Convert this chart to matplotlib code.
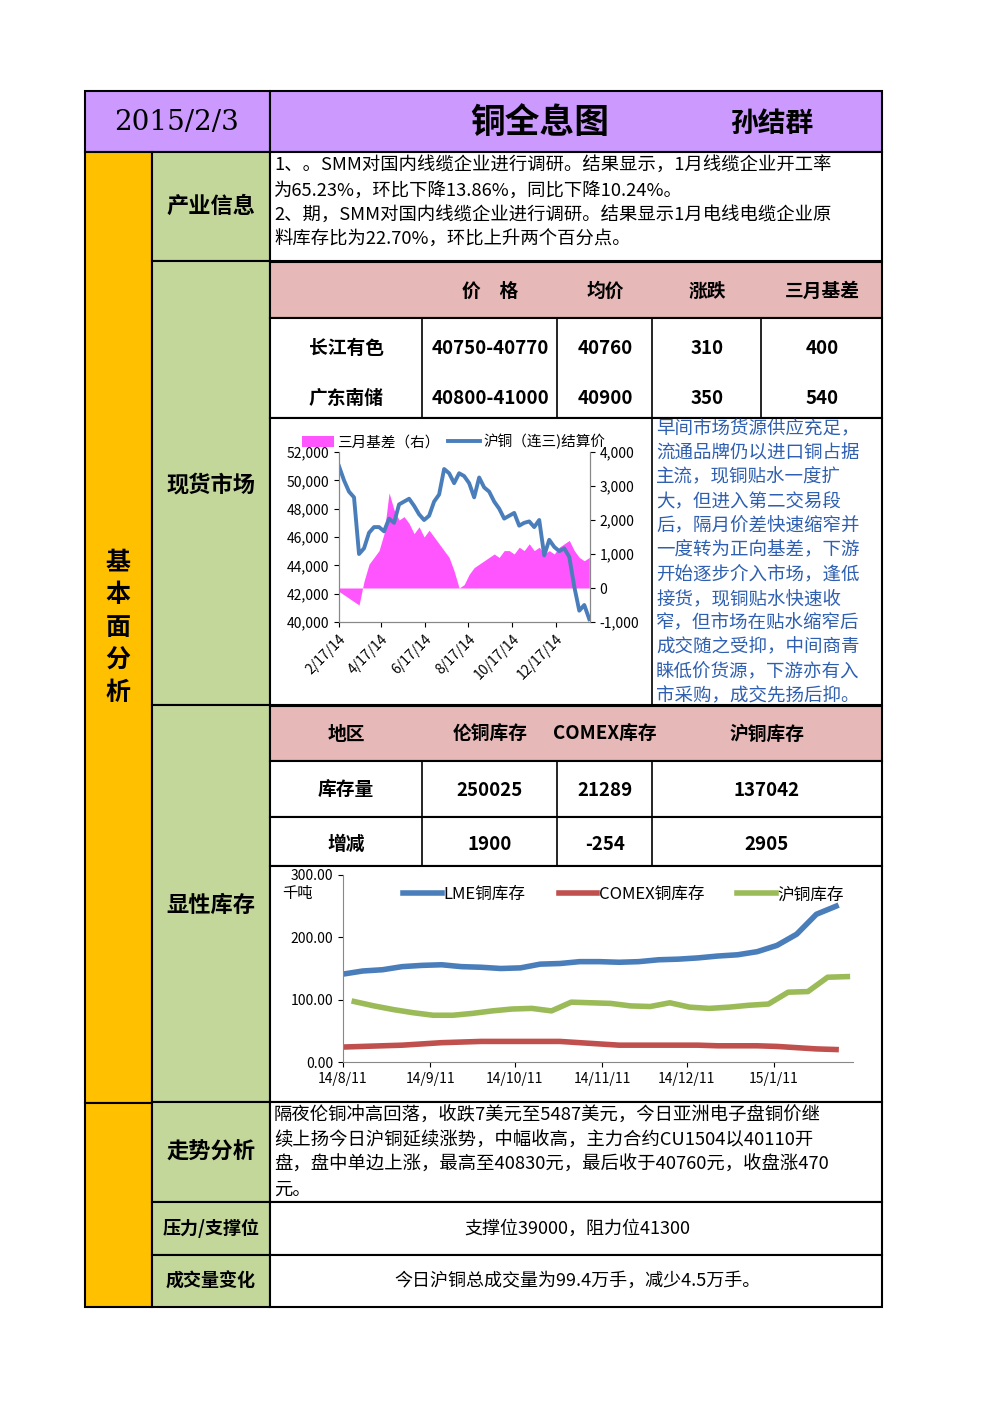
import matplotlib
matplotlib.use("Agg")
import matplotlib.pyplot as plt
import pandas as pd
from matplotlib.patches import Rectangle

plt.rcParams['font.family'] = ['Noto Sans CJK SC', 'DejaVu Sans']

# ---- data ----
price_table_header = ["价　格", "均价", "涨跌", "三月基差"]
price_rows = [["长江有色", "40750-40770", "40760", "310", "400"],
              ["广东南储", "40800-41000", "40900", "350", "540"]]
inv_header = ["地区", "伦铜库存", "COMEX库存", "沪铜库存"]
inv_rows = [["库存量", "250025", "21289", "137042"],
            ["增减", "1900", "-254", "2905"]]

spot_price = [51000, 50000, 49200, 48800, 44800, 45200, 46300, 46700, 46700, 46400,
              47300, 47000, 48300, 48500, 48700, 48200, 47600, 47200, 47500, 48500,
              49000, 50800, 50500, 49800, 50500, 50300, 49800, 48800, 50200, 49500,
              49200, 48500, 48000, 47300, 47500, 47700, 46800, 47000, 47100, 46700,
              47200, 44700, 45800, 45300, 45000, 45200, 44600, 42500, 40800, 41200, 40200]
basis = [-100, -200, -300, -400, -500, 200, 700, 900, 1100, 1600,
         2800, 2300, 2000, 2100, 1900, 1600, 1800, 1500, 1700, 1500,
         1300, 1100, 900, 500, 0, 100, 400, 600, 700, 800,
         900, 1000, 900, 1100, 1100, 1000, 1200, 1100, 1300, 1100,
         1200, 1000, 1100, 1000, 1200, 1300, 1400, 1100, 900, 800, 900]
spot_dates = pd.date_range("2014-02-17", periods=len(spot_price), freq="7D")

lme = [141, 146, 148, 153, 155, 156, 153, 152, 150, 151, 157, 158, 161, 161, 160, 161,
       164, 165, 167, 170, 172, 177, 187, 205, 237, 250]
comex = [24, 25, 26, 27, 29, 31, 32, 33, 33, 33, 33, 33, 31, 29, 27, 27, 27, 27, 27, 26,
         26, 26, 25, 23, 21, 20]
shfe = [97, 90, 84, 79, 75, 75, 78, 82, 85, 86, 82, 96, 95, 94, 90, 89, 95, 88, 86, 88,
        91, 93, 112, 113, 136, 137]
inv_dates = pd.date_range("2014-08-11", periods=len(lme), freq="7D")
shfe_dates = pd.date_range("2014-08-15", periods=len(shfe), freq="7D")

W, H = 992, 1403
fig = plt.figure(figsize=(9.92, 14.03), dpi=100)
bg = fig.add_axes([0, 0, 1, 1])
bg.set_xlim(0, W); bg.set_ylim(H, 0); bg.axis("off")

def rect(x0, y0, x1, y1, fc, lw=1.5):
    bg.add_patch(Rectangle((x0, y0), x1 - x0, y1 - y0, facecolor=fc, edgecolor="black", lw=lw))

def txt(x, y, s, size=13, bold=False, color="black", ha="center", **kw):
    bg.text(x, y, s, fontsize=size, fontweight="bold" if bold else "normal",
            color=color, ha=ha, va="center", **kw)

purple, orange, green, pink = "#CC99FF", "#FFC000", "#C4D79B", "#E6B8B7"

rect(85, 91, 270, 152, purple); rect(270, 91, 882, 152, purple)
txt(177, 122, "2015/2/3", size=20, family=["DejaVu Serif"])
txt(540, 122, "铜全息图", size=25, bold=True)
txt(772, 124, "孙结群", size=20, bold=True)

rect(85, 152, 152, 1103, orange); rect(85, 1103, 152, 1307, orange)
for i, ch in enumerate("基本面分析"):
    txt(118, 563 + i * 32.5, ch, size=18, bold=True)

sections = [(152, 261, "产业信息", 16), (261, 705, "现货市场", 16), (705, 1102, "显性库存", 16),
            (1102, 1202, "走势分析", 16), (1202, 1255, "压力/支撑位", 13), (1255, 1307, "成交量变化", 13)]
for y0, y1, s, fs in sections:
    rect(152, y0, 270, y1, green)
    yc = (y0 + y1) / 2
    if s == "现货市场": yc = 485
    if s == "显性库存": yc = 905
    txt(211, yc, s, size=fs, bold=True)

rect(270, 152, 882, 261, "white")
info = ["1、。SMM对国内线缆企业进行调研。结果显示，1月线缆企业开工率",
        "为65.23%，环比下降13.86%，同比下降10.24%。",
        "2、期，SMM对国内线缆企业进行调研。结果显示1月电线电缆企业原",
        "料库存比为22.70%，环比上升两个百分点。"]
for i, s in enumerate(info):
    txt(274, 166 + i * 24.5, s, size=13.2, ha="left")

rect(270, 262, 882, 318, pink)
for x, s in zip([490, 605, 707, 822], price_table_header):
    txt(x, 291, s, size=13.5, bold=True)
rect(270, 318, 882, 418, "white")
for x in [422, 557, 652, 761]:
    bg.plot([x, x], [318, 418], color="black", lw=1.2)
for r, yy in zip(price_rows, [348, 398]):
    for x, s in zip([346, 490, 605, 707, 822], r):
        txt(x, yy, s, size=13.5, bold=True)

rect(270, 418, 882, 705, "white")
comment = ["早间市场货源供应充足，", "流通品牌仍以进口铜占据", "主流，现铜贴水一度扩",
           "大，但进入第二交易段", "后，隔月价差快速缩窄并", "一度转为正向基差，下游",
           "开始逐步介入市场，逢低", "接货，现铜贴水快速收", "窄，但市场在贴水缩窄后",
           "成交随之受抑，中间商青", "睐低价货源，下游亦有入", "市采购，成交先扬后抑。"]
for i, s in enumerate(comment):
    txt(656, 429 + i * 24.3, s, size=13.3, ha="left", color="#2E5FB0")
bg.plot([652, 652], [418, 705], color="black", lw=1.2)

rect(270, 706, 882, 761, pink)
for x, s in zip([346, 490, 605, 767], inv_header):
    txt(x, 734, s, size=13.5, bold=True)
rect(270, 761, 882, 817, "white"); rect(270, 817, 882, 866, "white")
for x in [422, 557, 652]:
    bg.plot([x, x], [761, 866], color="black", lw=1.2)
for r, yy in zip(inv_rows, [790, 844]):
    for x, s in zip([346, 490, 605, 767], r):
        txt(x, yy, s, size=13.5, bold=True)
rect(270, 866, 882, 1102, "white")

rect(270, 1102, 882, 1202, "white")
trend = ["隔夜伦铜冲高回落，收跌7美元至5487美元，今日亚洲电子盘铜价继",
         "续上扬今日沪铜延续涨势，中幅收高，主力合约CU1504以40110开",
         "盘，盘中单边上涨，最高至40830元，最后收于40760元，收盘涨470",
         "元。"]
for i, s in enumerate(trend):
    txt(274, 1116 + i * 24.5, s, size=13.2, ha="left")
rect(270, 1202, 882, 1255, "white")
txt(577, 1229, "支撑位39000，阻力位41300", size=13)
rect(270, 1255, 882, 1307, "white")
txt(577, 1281, "今日沪铜总成交量为99.4万手，减少4.5万手。", size=13)

def fax(x0, y0, x1, y1):
    return fig.add_axes([x0 / W, 1 - y1 / H, (x1 - x0) / W, (y1 - y0) / H])

# chart 1
ax1 = fax(339, 452, 590, 622)
ax2 = ax1.twinx()
ax2.fill_between(spot_dates, 0, basis, color="#FF55FF", lw=0, label="三月基差（右）")
ax2.set_ylim(-1000, 4000)
ax2.set_yticks(range(-1000, 4001, 1000))
ax2.set_yticklabels([f"{v:,}" for v in range(-1000, 4001, 1000)])
ax1.plot(spot_dates, spot_price, color="#4A7EBB", lw=2.8, label="沪铜（连三)结算价")
ax1.set_ylim(40000, 52000)
ax1.set_yticks(range(40000, 52001, 2000))
ax1.set_yticklabels([f"{v:,}" for v in range(40000, 52001, 2000)])
ax1.set_zorder(ax2.get_zorder() + 1); ax1.patch.set_visible(False)
ticks = pd.to_datetime(["2014-02-17", "2014-04-17", "2014-06-17", "2014-08-17", "2014-10-17", "2014-12-17"])
ax1.set_xlim(pd.Timestamp("2014-02-17"), pd.Timestamp("2015-02-03"))
ax1.set_xticks(ticks)
ax1.set_xticklabels(["2/17/14", "4/17/14", "6/17/14", "8/17/14", "10/17/14", "12/17/14"])
for a in (ax1, ax2):
    a.tick_params(labelsize=10, direction="out")
    a.spines["top"].set_visible(False)
    for sp in a.spines.values():
        sp.set_color("#888888")
for lab in ax1.get_xticklabels():
    lab.set_rotation(45); lab.set_ha("right"); lab.set_rotation_mode("anchor")
h1, l1 = ax2.get_legend_handles_labels(); h2, l2 = ax1.get_legend_handles_labels()
ax1.legend(h1 + h2, l1 + l2, loc="lower left", bbox_to_anchor=(-0.17, 0.98), ncol=2, frameon=False,
           fontsize=10.5, handlelength=2.2, columnspacing=0.6, borderaxespad=0, handletextpad=0.2)

# chart 2
ax3 = fax(343, 875, 853, 1062)
ax3.plot(inv_dates, lme, color="#4A7EBB", lw=4, label="LME铜库存")
ax3.plot(inv_dates, comex, color="#C0504D", lw=4, label="COMEX铜库存")
ax3.plot(shfe_dates, shfe, color="#9BBB59", lw=4, label="沪铜库存")
ax3.set_ylim(0, 300)
ax3.set_yticks([0, 100, 200, 300])
ax3.set_yticklabels(["0.00", "100.00", "200.00", "300.00"])
xt = pd.to_datetime(["2014-08-11", "2014-09-11", "2014-10-11", "2014-11-11", "2014-12-11", "2015-01-11"])
ax3.set_xticks(xt)
ax3.set_xticklabels(["14/8/11", "14/9/11", "14/10/11", "14/11/11", "14/12/11", "15/1/11"])
ax3.set_xlim(pd.Timestamp("2014-08-11"), pd.Timestamp("2015-02-08"))
ax3.tick_params(labelsize=10, direction="out")
for s in ("top", "right"):
    ax3.spines[s].set_visible(False)
for sp in ax3.spines.values():
    sp.set_color("#888888")
ax3.text(-0.12, 0.9, "千吨", transform=ax3.transAxes, fontsize=11, ha="left", va="center")
ax3.legend(loc="upper center", bbox_to_anchor=(0.55, 1.02), ncol=3, frameon=False, fontsize=12,
           handlelength=2.3, columnspacing=2.0, handletextpad=0.1)

fig.savefig("out.png", dpi=100)
